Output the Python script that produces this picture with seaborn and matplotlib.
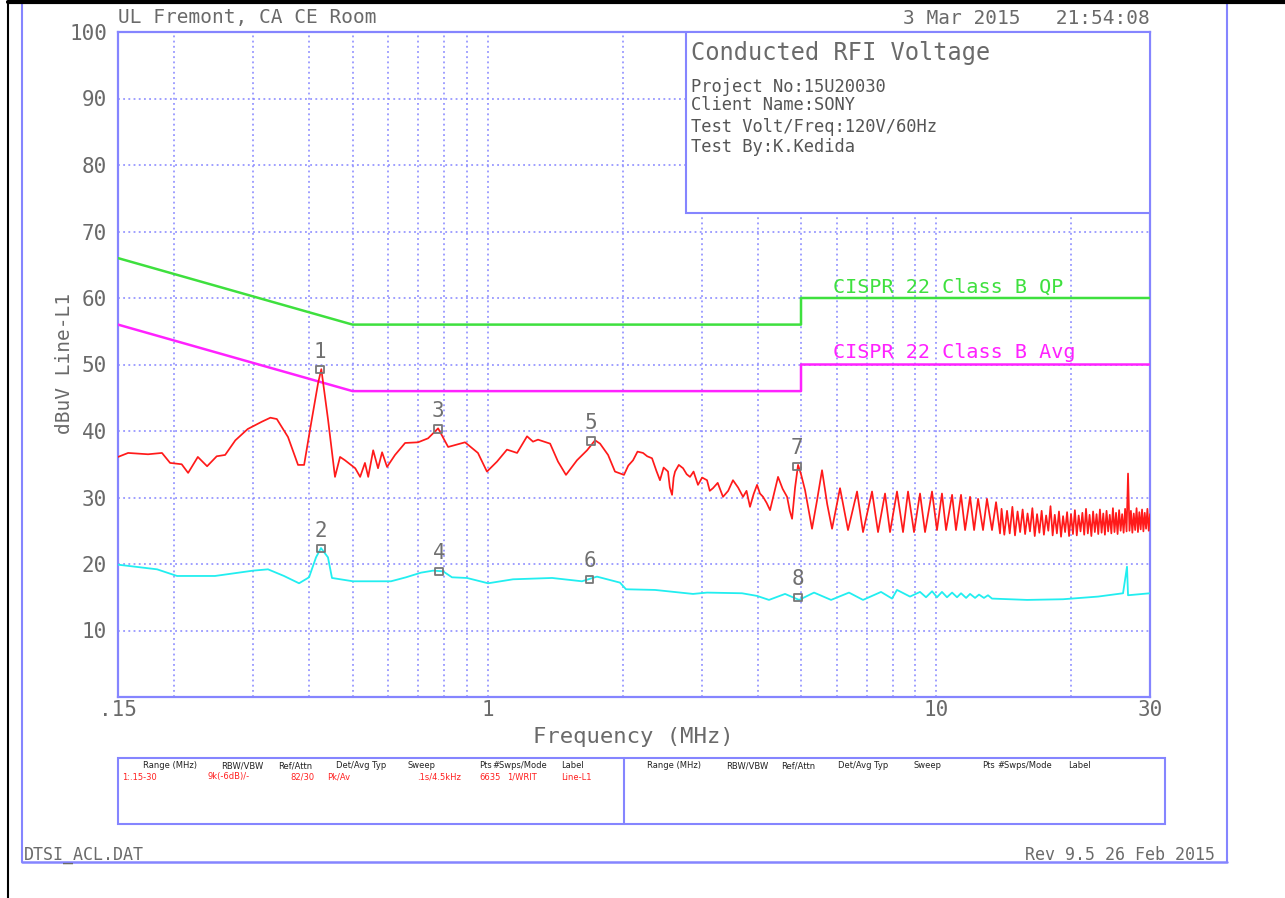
import numpy as np
import pandas as pd
import matplotlib
matplotlib.use("Agg")
import matplotlib.pyplot as plt
import seaborn as sns
from matplotlib.lines import Line2D
from matplotlib.patches import Rectangle

# ---------------- data ----------------
peak_freq = [0.150, 0.158, 0.175, 0.188, 0.196, 0.208, 0.215, 0.226, 0.237, 0.249,
             0.260, 0.274, 0.292, 0.314, 0.328, 0.339, 0.359, 0.378, 0.390, 0.402,
             0.419, 0.426, 0.441, 0.457, 0.469, 0.481, 0.507, 0.520, 0.533, 0.542,
             0.556, 0.570, 0.582, 0.597, 0.622, 0.655, 0.700, 0.737, 0.776, 0.817,
             0.891, 0.952, 0.997, 1.050, 1.105, 1.164, 1.225, 1.263, 1.296, 1.379,
             1.436, 1.496, 1.583, 1.667, 1.737, 1.782, 1.857, 1.924,
             2.015, 2.06, 2.111, 2.16, 2.222, 2.27, 2.327, 2.38, 2.424, 2.47,
             2.526, 2.55, 2.579, 2.60, 2.619, 2.67, 2.729, 2.78, 2.828, 2.88,
             2.946, 3.01, 3.086, 3.13, 3.182, 3.26, 3.350, 3.44, 3.526, 3.62,
             3.713, 3.78, 3.848, 3.92, 3.990, 4.05, 4.115, 4.19, 4.265, 4.35,
             4.444, 4.55, 4.655, 4.72, 4.776, 4.85, 4.925, 5.0,
             5.105, 5.291, 5.43, 5.570, 5.72, 5.864, 6.109, 6.365, 6.667, 6.875,
             7.200, 7.425, 7.697, 7.897, 8.185, 8.442, 8.662, 8.932, 9.211, 9.452,
             9.797, 10.05, 10.31, 10.53, 10.86, 11.08, 11.37, 11.61, 11.91, 12.16,
             12.41, 12.73, 12.99, 13.33, 13.61, 13.89,
             14.0, 14.2, 14.4, 14.6, 14.8, 15.0, 15.2, 15.4, 15.6, 15.8,
             16.0, 16.2, 16.4, 16.6, 16.8, 17.0, 17.2, 17.4, 17.6, 17.8,
             18.0, 18.2, 18.4, 18.6, 18.8, 19.0, 19.2, 19.4, 19.6, 19.8,
             20.0, 20.2, 20.4, 20.6, 20.8, 21.0, 21.2, 21.4, 21.6, 21.8,
             22.0, 22.2, 22.4, 22.6, 22.8, 23.0, 23.2, 23.4, 23.6, 23.8,
             24.0, 24.2, 24.4, 24.6, 24.8, 25.0, 25.2, 25.4, 25.6, 25.8,
             26.0, 26.2, 26.4, 26.6, 26.8, 27.0, 27.2, 27.4, 27.6, 27.8,
             28.0, 28.2, 28.4, 28.6, 28.8, 29.0, 29.2, 29.4, 29.6, 29.8, 30.0]
peak_level = [36.1, 36.7, 36.5, 36.7, 35.2, 35.0, 33.7, 36.1, 34.7, 36.2,
              36.4, 38.6, 40.3, 41.4, 42.0, 41.8, 39.1, 34.9, 34.9, 40.2,
              47.2, 49.3, 41.7, 33.1, 36.1, 35.6, 34.4, 33.1, 35.2, 33.1,
              37.1, 34.4, 36.8, 34.6, 36.4, 38.2, 38.3, 38.9, 40.4, 37.6,
              38.3, 36.7, 33.9, 35.4, 37.2, 36.7, 39.2, 38.4, 38.7, 38.1,
              35.4, 33.4, 35.6, 37.1, 38.6, 38.1, 36.4, 33.9,
              33.4, 34.8, 35.6, 36.9, 36.7, 36.2, 35.9, 34.0, 32.6, 34.5,
              33.9, 31.5, 30.4, 33.0, 33.9, 34.9, 34.4, 33.5, 33.1, 33.9,
              31.9, 33.0, 32.6, 31.0, 31.4, 32.2, 30.1, 31.0, 32.6, 31.5,
              30.1, 31.0, 28.6, 30.5, 31.9, 30.6, 30.1, 29.2, 28.1, 30.5,
              33.1, 31.3, 30.1, 28.0, 26.8, 31.5, 34.9, 33.5,
              31.1, 25.3, 29.6, 34.1, 29.0, 25.3, 31.4, 25.1, 30.9, 24.8,
              30.9, 24.8, 30.6, 24.8, 30.9, 24.8, 30.9, 24.8, 30.6, 24.8,
              30.9, 25.1, 30.6, 25.1, 30.4, 25.1, 30.4, 25.1, 30.1, 25.1,
              29.8, 25.1, 29.8, 25.1, 29.3, 24.6,
              28.3, 24.4, 28.0, 24.6, 28.6, 24.3, 27.9, 24.8, 28.2, 24.5,
              27.6, 24.9, 28.4, 24.2, 27.5, 24.7, 28.0, 24.4, 27.3, 25.0,
              28.7, 24.3, 27.4, 24.6, 27.9, 24.1, 27.2, 24.8, 27.8, 24.2,
              27.5, 24.5, 28.1, 24.3, 27.3, 24.9, 27.7, 24.4, 28.3, 24.6,
              27.4, 24.2, 27.9, 24.8, 27.5, 24.5, 28.2, 24.7, 27.6, 24.4,
              28.0, 24.9, 27.4, 24.6, 28.4, 24.8, 27.7, 24.5, 28.1, 25.0,
              27.5, 24.7, 28.3, 24.9, 33.6, 25.0, 28.0, 24.7, 27.6, 25.1,
              28.4, 24.8, 27.8, 25.2, 28.2, 24.9, 27.7, 25.3, 28.3, 25.0, 27.5]

avg_freq = [0.150, 0.1833, 0.2031, 0.2468, 0.300, 0.324, 0.3517, 0.380, 0.400, 0.4146,
            0.4253, 0.4408, 0.450, 0.5012, 0.6091, 0.6581, 0.7108, 0.7558, 0.7959, 0.8333,
            0.900, 1.003, 1.140, 1.393, 1.624, 1.754, 1.974, 2.036, 2.363, 2.872,
            3.086, 3.694, 3.990, 4.242, 4.607, 4.950, 5.346, 5.834, 6.397, 6.875,
            7.540, 7.979, 8.185, 8.750, 9.211, 9.50, 9.80, 10.05, 10.31, 10.58,
            10.86, 11.14, 11.37, 11.67, 11.91, 12.22, 12.47, 12.79, 13.06, 13.33,
            15.96, 19.19, 22.97, 26.12, 26.66, 26.80, 30.0]
avg_level = [19.9, 19.2, 18.2, 18.2, 19.0, 19.2, 18.2, 17.1, 18.0, 21.0,
             22.4, 21.0, 17.9, 17.4, 17.4, 18.0, 18.7, 19.0, 18.9, 18.0,
             17.9, 17.1, 17.7, 17.9, 17.4, 18.1, 17.2, 16.2, 16.1, 15.5,
             15.7, 15.6, 15.2, 14.6, 15.5, 14.6, 15.7, 14.6, 15.7, 14.6,
             15.8, 14.8, 16.1, 15.1, 15.8, 15.0, 15.9, 15.0, 15.8, 15.0,
             15.7, 15.0, 15.6, 14.9, 15.5, 14.9, 15.4, 14.9, 15.3, 14.8,
             14.6, 14.7, 15.1, 15.6, 19.6, 15.3, 15.6]

qp_freq = [0.15, 0.5, 5.0, 5.0, 30.0]
qp_limit = [66, 56, 56, 60, 60]
av_freq = [0.15, 0.5, 5.0, 5.0, 30.0]
av_limit = [56, 46, 46, 50, 50]

marker_ids = ["1", "2", "3", "4", "5", "6", "7", "8"]
marker_freq = [0.423, 0.425, 0.776, 0.780, 1.70, 1.69, 4.90, 4.925]
marker_level = [49.2, 22.3, 40.3, 18.9, 38.5, 17.7, 34.7, 15.0]

x_grid = [0.15, 0.2, 0.3, 0.4, 0.5, 0.6, 0.7, 0.8, 0.9, 1, 2, 3, 4, 5, 6, 7, 8, 9, 10, 20, 30]
x_labels = [".15", "", "", "", "", "", "", "", "", "1", "", "", "", "", "", "", "", "", "10", "", "30"]
y_ticks = [0, 10, 20, 30, 40, 50, 60, 70, 80, 90, 100]
y_labels = ["", "10", "20", "30", "40", "50", "60", "70", "80", "90", "100"]

info_lines = ["Project No:15U20030", "Client Name:SONY", "Test Volt/Freq:120V/60Hz", "Test By:K.Kedida"]
tbl_headers = ["Range (MHz)", "RBW/VBW", "Ref/Attn", "Det/Avg Typ", "Sweep", "Pts", "#Swps/Mode", "Label"]
tbl_values = ["1:.15-30", "9k(-6dB)/-", "82/30", "Pk/Av", ".1s/4.5kHz", "6635", "1/WRIT", "Line-L1"]

# ---------------- style ----------------
sns.set_style("white")
plt.rcParams['font.family'] = ['DejaVu Sans Mono', 'DejaVu Sans']

W, H = 1285, 898
BLUE = '#8585ff'
GRAY = '#6a6a6a'
GREEN = '#3ee03e'
MAGENTA = '#ff22ff'
RED = '#ff1a1a'
CYAN = '#22eef0'

def fx(x):
    return x / W

def fy(y):
    return 1 - y / H

fig = plt.figure(figsize=(W / 100, H / 100), dpi=100)
fig.patch.set_facecolor('white')
ax = fig.add_axes([fx(118), fy(697), (1150 - 118) / W, (697 - 32) / H])

peak_df = pd.DataFrame({"freq": peak_freq, "level": peak_level})
avg_df = pd.DataFrame({"freq": avg_freq, "level": avg_level})
qp_df = pd.DataFrame({"freq": qp_freq, "level": qp_limit})
av_df = pd.DataFrame({"freq": av_freq, "level": av_limit})
mk_df = pd.DataFrame({"freq": marker_freq, "level": marker_level, "id": marker_ids})

sns.lineplot(data=qp_df, x="freq", y="level", ax=ax, color=GREEN, lw=1.8,
             estimator=None, sort=False, zorder=4)
sns.lineplot(data=av_df, x="freq", y="level", ax=ax, color=MAGENTA, lw=1.8,
             estimator=None, sort=False, zorder=4)
sns.lineplot(data=peak_df, x="freq", y="level", ax=ax, color=RED, lw=1.25,
             estimator=None, sort=False, zorder=5)
sns.lineplot(data=avg_df, x="freq", y="level", ax=ax, color=CYAN, lw=1.3,
             estimator=None, sort=False, zorder=5)
sns.scatterplot(data=mk_df, x="freq", y="level", ax=ax, marker='s', s=28,
                facecolor='none', edgecolor='#777777', linewidth=1.3, zorder=6)
for mid, f, v in zip(marker_ids, marker_freq, marker_level):
    ax.annotate(mid, (f, v), xytext=(0, 13), textcoords='offset points',
                ha='center', va='center', fontsize=15, color='#707070', zorder=7)

ax.set_xscale('log')
ax.set_xlim(0.15, 30)
ax.set_ylim(0, 100)
ax.set_xticks(x_grid)
ax.set_xticklabels(x_labels)
ax.xaxis.set_minor_locator(matplotlib.ticker.NullLocator())
ax.set_yticks(y_ticks)
ax.set_yticklabels(y_labels)
ax.grid(True, color=BLUE, linestyle=(0, (1.2, 2.2)), lw=1.1, zorder=1)
ax.set_axisbelow(True)
ax.tick_params(axis='both', length=0, labelcolor=GRAY, labelsize=15)
ax.tick_params(axis='y', pad=8)
ax.tick_params(axis='x', pad=2)
ax.set_xlabel("")
ax.set_ylabel("")
for sp in ax.spines.values():
    sp.set_color(BLUE)
    sp.set_linewidth(1.6)
    sp.set_visible(True)

# limit labels
ax.text(5.9, 61.6, "CISPR 22 Class B QP", color=GREEN, fontsize=14.5, va='center', ha='left', zorder=6)
ax.text(5.9, 51.8, "CISPR 22 Class B Avg", color=MAGENTA, fontsize=14.5, va='center', ha='left', zorder=6)

# info box
ax.add_patch(Rectangle(((686 - 118) / 1032, (697 - 213) / 665), (1150 - 686) / 1032, (213 - 32) / 665,
                       transform=ax.transAxes, facecolor='white', edgecolor=BLUE, lw=1.5, zorder=8))
fig.text(fx(691), fy(53), "Conducted RFI Voltage", fontsize=17, color=GRAY, va='center', ha='left', zorder=10)
for txt, yy in zip(info_lines, [87, 105, 127, 147]):
    fig.text(fx(691), fy(yy), txt, fontsize=12.3, color='#555555', va='center', ha='left')

# header / axis titles
fig.text(fx(118), fy(18), "UL Fremont, CA CE Room", fontsize=14, color=GRAY, va='center', ha='left')
fig.text(fx(1150), fy(18), "3 Mar 2015   21:54:08", fontsize=14, color=GRAY, va='center', ha='right')
fig.text(fx(633), fy(737), "Frequency (MHz)", fontsize=16, color=GRAY, va='center', ha='center')
fig.text(fx(64), fy(364), "dBuV Line-L1", fontsize=14, color=GRAY, va='center', ha='center', rotation=90)

# bottom table
fig.add_artist(Rectangle((fx(118), fy(824)), (1165 - 118) / W, (824 - 758) / H,
                         transform=fig.transFigure, facecolor='none', edgecolor=BLUE, lw=1.5))
fig.add_artist(Line2D([fx(624), fx(624)], [fy(758), fy(824)], color=BLUE, lw=1.5))
hdr_x_left = [143, 221, 278, 336, 408, 479, 492, 561]
hdr_x_right = [647, 726, 781, 838, 914, 982, 997, 1068]
val_x = [122, 208, 290, 327, 417, 479, 507, 561]
for t, x in zip(tbl_headers, hdr_x_left):
    fig.text(fx(x), fy(766), t, fontsize=6, color='#222222', family='DejaVu Sans', va='center', ha='left')
for t, x in zip(tbl_headers, hdr_x_right):
    fig.text(fx(x), fy(766), t, fontsize=6, color='#222222', family='DejaVu Sans', va='center', ha='left')
for t, x in zip(tbl_values, val_x):
    fig.text(fx(x), fy(777), t, fontsize=6, color='#ff2020', family='DejaVu Sans', va='center', ha='left')

fig.text(fx(24), fy(855), "DTSI_ACL.DAT", fontsize=12, color=GRAY, va='center', ha='left')
fig.text(fx(1215), fy(855), "Rev 9.5 26 Feb 2015", fontsize=12, color=GRAY, va='center', ha='right')

# page frames
fig.add_artist(Line2D([fx(22), fx(22)], [fy(0), fy(862)], color=BLUE, lw=1.5))
fig.add_artist(Line2D([fx(1227), fx(1227)], [fy(0), fy(862)], color=BLUE, lw=1.5))
fig.add_artist(Line2D([fx(22), fx(1227)], [fy(862), fy(862)], color=BLUE, lw=1.8))
fig.add_artist(Line2D([fx(8), fx(8)], [fy(2), fy(898)], color='black', lw=1.5))
fig.add_artist(Line2D([fx(8), fx(1285)], [fy(2), fy(2)], color='black', lw=3))

fig.savefig("out.png", dpi=100)
